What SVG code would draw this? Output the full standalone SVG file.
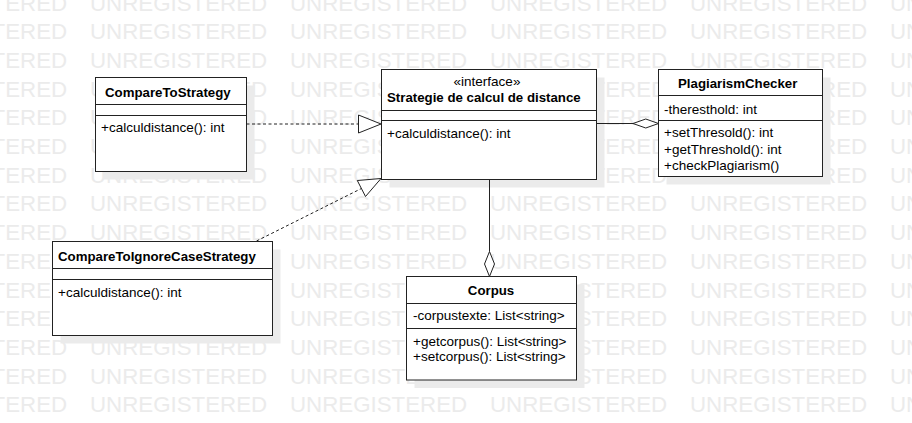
<svg xmlns="http://www.w3.org/2000/svg" xmlns:xlink="http://www.w3.org/1999/xlink" width="912" height="423" viewBox="0 0 912 423">
<style>
  .wm { font-family: "Liberation Sans", Arial, sans-serif; font-size: 22.3px; fill: #ebebeb; }
  .box { fill: #ffffff; stroke: #222222; stroke-width: 1; }
  .shadow { fill: #ebebeb; stroke: none; }
  .div { stroke: #222222; stroke-width: 1; }
  .title { font-family: "Liberation Sans", Arial, sans-serif; font-size: 13.25px; font-weight: bold; fill: #000000; }
  .txt { font-family: "Liberation Sans", Arial, sans-serif; font-size: 13.5px; fill: #000000; }
  .edge { fill: none; stroke: #222222; stroke-width: 1; }
  .dash { stroke-dasharray: 3 2.5; }
  .head { fill: #ffffff; stroke: #222222; stroke-width: 1; }
</style>
<defs>
  <g id="wmrow">
    <text class="wm" x="-110" y="0">UNREGISTERED</text>
    <text class="wm" x="90" y="0">UNREGISTERED</text>
    <text class="wm" x="290" y="0">UNREGISTERED</text>
    <text class="wm" x="490" y="0">UNREGISTERED</text>
    <text class="wm" x="690" y="0">UNREGISTERED</text>
    <text class="wm" x="890" y="0">UNREGISTERED</text>
  </g>
</defs>
<rect x="0" y="0" width="912" height="423" fill="#ffffff"/>
<g id="watermark">
  <use xlink:href="#wmrow" href="#wmrow" y="10.5"/>
  <use xlink:href="#wmrow" href="#wmrow" y="39.2"/>
  <use xlink:href="#wmrow" href="#wmrow" y="67.9"/>
  <use xlink:href="#wmrow" href="#wmrow" y="96.6"/>
  <use xlink:href="#wmrow" href="#wmrow" y="125.3"/>
  <use xlink:href="#wmrow" href="#wmrow" y="154"/>
  <use xlink:href="#wmrow" href="#wmrow" y="182.7"/>
  <use xlink:href="#wmrow" href="#wmrow" y="211.4"/>
  <use xlink:href="#wmrow" href="#wmrow" y="240.1"/>
  <use xlink:href="#wmrow" href="#wmrow" y="268.8"/>
  <use xlink:href="#wmrow" href="#wmrow" y="297.5"/>
  <use xlink:href="#wmrow" href="#wmrow" y="326.2"/>
  <use xlink:href="#wmrow" href="#wmrow" y="354.9"/>
  <use xlink:href="#wmrow" href="#wmrow" y="383.6"/>
  <use xlink:href="#wmrow" href="#wmrow" y="412.3"/>
</g>

<g id="shadows">
  <rect class="shadow" x="103.5" y="85.5" width="151" height="94"/>
  <rect class="shadow" x="389.5" y="77.5" width="215" height="110"/>
  <rect class="shadow" x="666.5" y="77.5" width="164" height="107"/>
  <rect class="shadow" x="60.5" y="249.5" width="220" height="94"/>
  <rect class="shadow" x="414.5" y="284.5" width="170" height="103.5"/>
</g>

<g id="CompareToStrategy">
  <rect class="box" x="95.5" y="77.5" width="151" height="94"/>
  <line class="div" x1="95.5" y1="104.5" x2="246.5" y2="104.5"/>
  <line class="div" x1="95.5" y1="115.5" x2="246.5" y2="115.5"/>
  <text class="title" x="105" y="97">CompareToStrategy</text>
  <text class="txt" x="101" y="132">+calculdistance(): int</text>
</g>

<g id="StrategieInterface">
  <rect class="box" x="381.5" y="69.5" width="215" height="110"/>
  <line class="div" x1="381.5" y1="110.5" x2="596.5" y2="110.5"/>
  <line class="div" x1="381.5" y1="120.5" x2="596.5" y2="120.5"/>
  <text class="txt" x="487" y="86" text-anchor="middle">«interface»</text>
  <text class="title" x="387" y="102">Strategie de calcul de distance</text>
  <text class="txt" x="387" y="137.5">+calculdistance(): int</text>
</g>

<g id="PlagiarismChecker">
  <rect class="box" x="658.5" y="69.5" width="164" height="107"/>
  <line class="div" x1="658.5" y1="95.5" x2="822.5" y2="95.5"/>
  <line class="div" x1="658.5" y1="120.5" x2="822.5" y2="120.5"/>
  <text class="title" x="678" y="88">PlagiarismChecker</text>
  <text class="txt" x="664" y="113.5">-theresthold: int</text>
  <text class="txt" x="664" y="137">+setThresold(): int</text>
  <text class="txt" x="664" y="153.5">+getThreshold(): int</text>
  <text class="txt" x="664" y="170">+checkPlagiarism()</text>
</g>

<g id="CompareToIgnoreCaseStrategy">
  <rect class="box" x="52.5" y="241.5" width="220" height="94"/>
  <line class="div" x1="52.5" y1="268.5" x2="272.5" y2="268.5"/>
  <line class="div" x1="52.5" y1="279.5" x2="272.5" y2="279.5"/>
  <text class="title" x="58" y="261">CompareToIgnoreCaseStrategy</text>
  <text class="txt" x="58" y="296.5">+calculdistance(): int</text>
</g>

<g id="Corpus">
  <rect class="box" x="406.5" y="276.5" width="170" height="103.5"/>
  <line class="div" x1="406.5" y1="303.5" x2="576.5" y2="303.5"/>
  <line class="div" x1="406.5" y1="328.5" x2="576.5" y2="328.5"/>
  <text class="title" x="491" y="295" text-anchor="middle">Corpus</text>
  <text class="txt" x="413" y="320">-corpustexte: List&lt;string&gt;</text>
  <text class="txt" x="413" y="345.5">+getcorpus(): List&lt;string&gt;</text>
  <text class="txt" x="413" y="360.5">+setcorpus(): List&lt;string&gt;</text>
</g>

<g id="connectors">
  <line class="edge dash" x1="246.5" y1="124" x2="358.5" y2="124"/>
  <polygon class="head" points="381,124 358.5,115 358.5,133"/>
  <line class="edge dash" x1="256.5" y1="241" x2="361.4" y2="188.5"/>
  <polygon class="head" points="381,178.5 357.3,180.5 365.5,196.5"/>
  <line class="edge" x1="596.5" y1="123.5" x2="633" y2="123.5"/>
  <polygon class="head" points="658.5,123.5 645.75,119 633,123.5 645.75,128"/>
  <line class="edge" x1="489.5" y1="179.5" x2="489.5" y2="251.5"/>
  <polygon class="head" points="489.5,276.5 484.5,264 489.5,251.5 494.5,264"/>
</g>
</svg>
